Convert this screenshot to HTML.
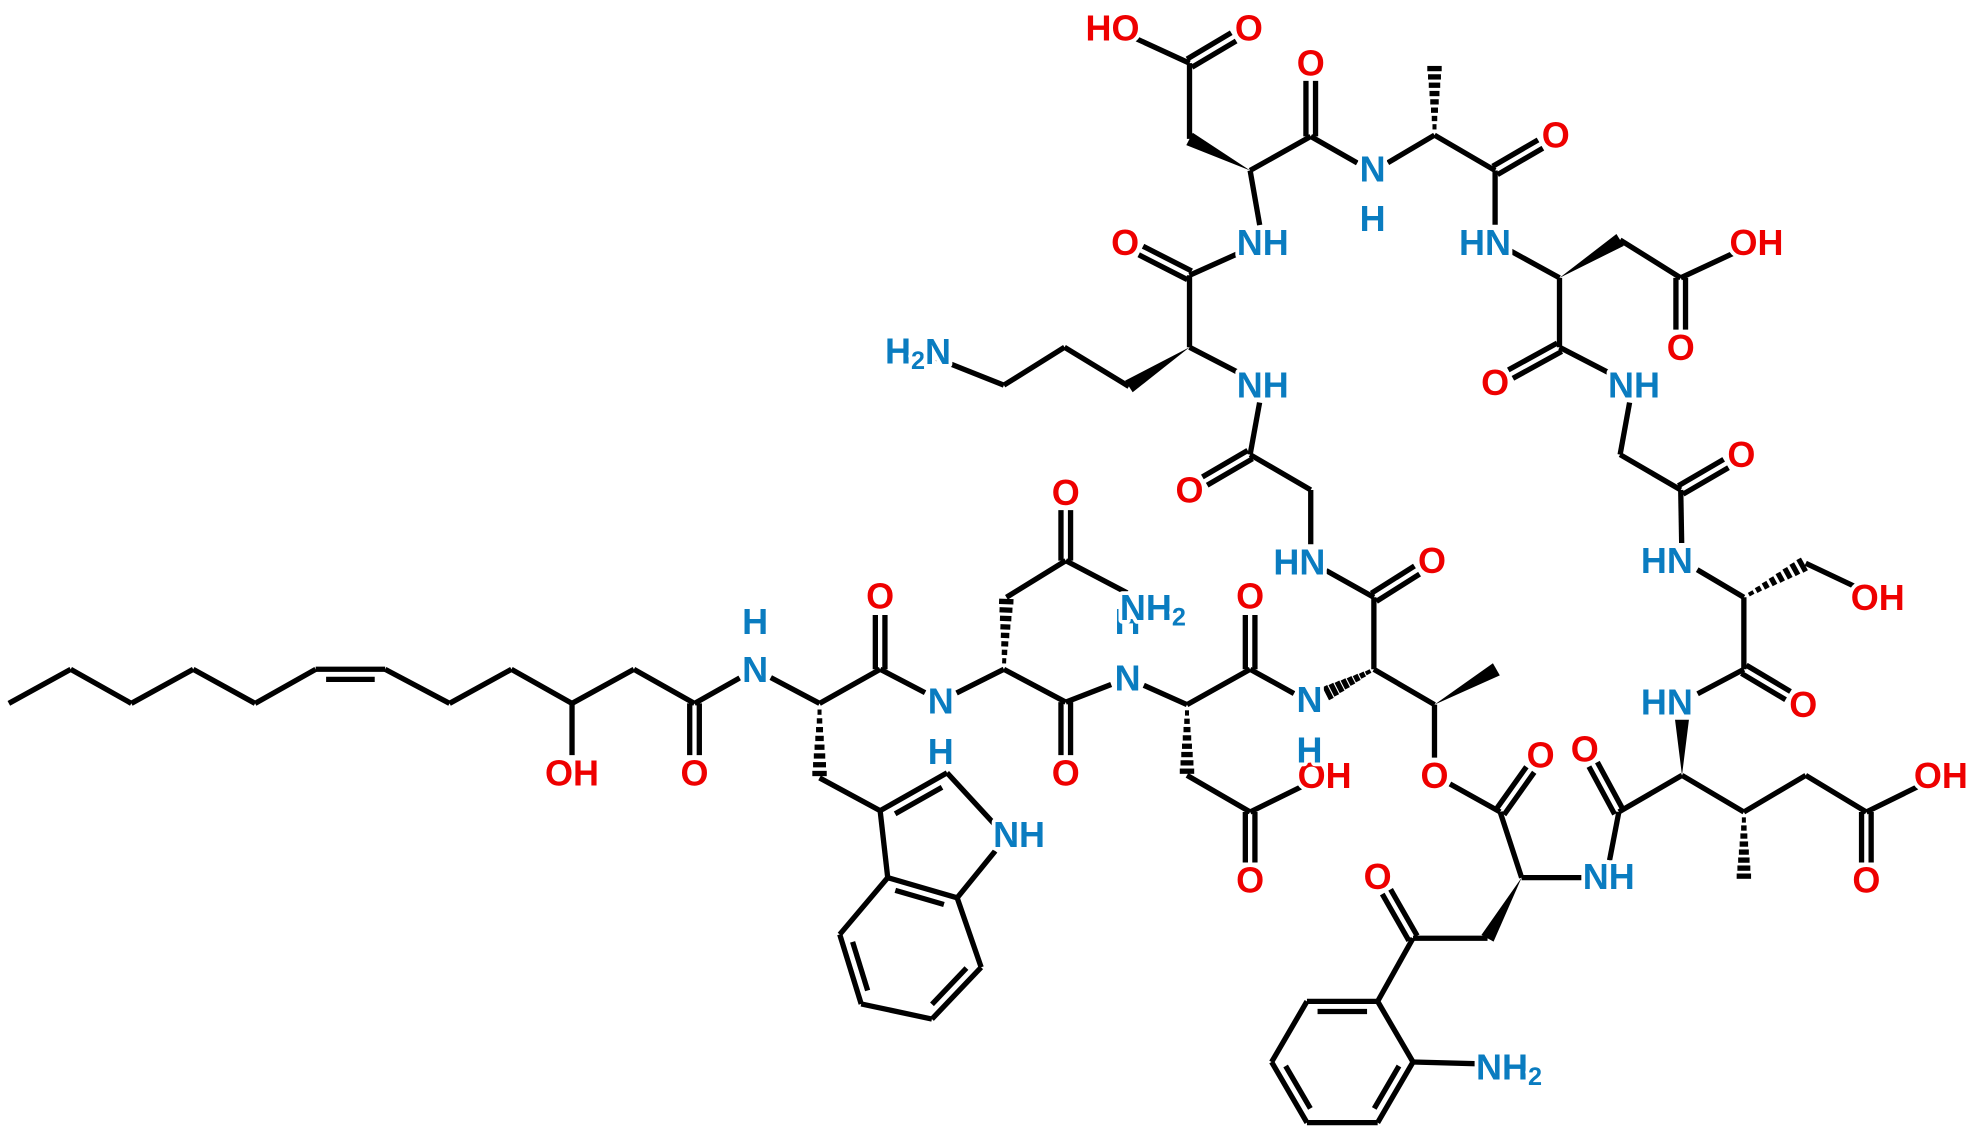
<!DOCTYPE html>
<html><head><meta charset="utf-8"><style>
html,body{margin:0;padding:0;background:#fff;}
svg{display:block;}
text{font-family:"Liberation Sans",sans-serif;font-weight:bold;font-size:28.5px;text-anchor:middle;dominant-baseline:central;stroke:#fff;stroke-width:6px;paint-order:stroke;stroke-linejoin:round;}
.o{fill:#ee0000;} .n{fill:#0a7cc0;}
</style></head><body>
<svg id="s" width="1980" height="1134" viewBox="0 0 1568 898" xmlns="http://www.w3.org/2000/svg">
<g id="b" stroke="#000" stroke-width="4.2" fill="none" stroke-linecap="butt" stroke-linejoin="miter"></g>
<g id="t">
<text class="o" x="453" y="612">OH</text>
<text class="o" x="550" y="612">O</text>
<text class="n" x="598" y="530">N</text><text class="n" x="598" y="492">H</text>
<text class="o" x="697" y="472">O</text>
<text class="n" x="745" y="555">N</text><text class="n" x="745" y="595">H</text>
<text class="n" x="807" y="661">NH</text>
<text class="o" x="844" y="390">O</text>
<text class="o" x="844" y="612">O</text>
<text class="n" x="893" y="537">N</text><text class="n" x="893" y="492">H</text>
<text class="n" x="913" y="481">NH<tspan dy="8" font-size="20">2</tspan></text>
<text class="o" x="990" y="472">O</text>
<text class="o" x="1049" y="614">OH</text>
<text class="o" x="990" y="697">O</text>
<text class="n" x="1037" y="554">N</text><text class="n" x="1037" y="594">H</text>
<text class="n" x="1029" y="445">HN</text>
<text class="o" x="1134" y="444">O</text>
<text class="o" x="1136" y="614">O</text>
<text class="o" x="1220" y="598">O</text>
<text class="o" x="1091" y="694">O</text>
<text class="n" x="1274" y="694">NH</text>
<text class="n" x="1195" y="845">NH<tspan dy="8" font-size="20">2</tspan></text>
<text class="o" x="1255" y="593">O</text>
<text class="n" x="1320" y="556">HN</text>
<text class="o" x="1537" y="614">OH</text>
<text class="o" x="1478" y="697">O</text>
<text class="o" x="1428" y="558">O</text>
<text class="o" x="1487" y="473">OH</text>
<text class="n" x="1320" y="444">HN</text>
<text class="o" x="1379" y="360">O</text>
<text class="n" x="1294" y="305">NH</text>
<text class="o" x="1184" y="303">O</text>
<text class="o" x="1331" y="275">O</text>
<text class="o" x="1391" y="192">OH</text>
<text class="n" x="1176" y="192">HN</text>
<text class="o" x="1232" y="107">O</text>
<text class="n" x="1087" y="134">N</text><text class="n" x="1087" y="173">H</text>
<text class="o" x="1038" y="50">O</text>
<text class="o" x="881" y="22">HO</text>
<text class="o" x="989" y="22">O</text>
<text class="n" x="1000" y="192">NH</text>
<text class="o" x="891" y="192">O</text>
<text class="n" x="1000" y="305">NH</text>
<text class="n" x="727" y="278">H<tspan dy="8" font-size="20">2</tspan><tspan dy="-8">N</tspan></text>
<text class="o" x="942" y="388">O</text>
</g>
</svg>
<script>
var P={
c1:[7,557],c2:[56,530],c3:[104,557],c4:[153,530],c5:[202,557],c6:[250,530],c7:[305,530],c8:[356,557],c9:[405,530],c10:[453,557],OH1:[453,612],c11:[502,530],c12:[550,557],O12:[550,612],N1:[598,530],
tA:[649,557],tB:[649,616],t3:[697,642],t2:[750,612],tN:[797,663],t7a:[758,711],t3a:[703,695],b1:[665,740],b2:[682,795],b3:[738,807],b4:[777,766],
tC:[697,530],tO:[697,473],N2:[745,555],aA:[795,530],aB:[797,473],aC:[844,444],aO:[844,390],aN:[905,476],
aCO:[844,556],aO2:[844,612],N3:[893,537],dA:[940,558],dC:[990,530],dO:[990,473],dB:[940,614],dG:[990,643],dOH:[1049,614],dO2:[990,697],
N4:[1037,556],thA:[1088,530],thC:[1088,473],thO:[1134,444],HN5:[1038,445],thB:[1136,558],thM:[1185,530],thOe:[1136,614],
eC:[1188,643],eO:[1220,598],kA:[1205,695],kN:[1272,695],kB:[1178,743],kC:[1119,743],kO:[1091,694],
p1:[1091,793],p2:[1119,841],pN:[1193,843],p3:[1091,889],p4:[1035,889],p5:[1007,841],p6:[1035,793],
gC:[1282,643],gO:[1255,593],gA:[1332,614],gN:[1332,556],gB:[1381,643],gM:[1381,697],gG:[1430,614],gD:[1478,643],gOH:[1537,614],gO2:[1478,697],
sC:[1381,530],sO:[1428,558],sA:[1381,473],sB:[1430,446],sOH:[1487,473],sN:[1332,444],
g2C:[1331,388],g2O:[1379,360],g2B:[1283,360],g2N:[1293,305],
d2C:[1235,275],d2O:[1184,303],d2A:[1235,220],d2B:[1283,190],d2G:[1331,220],d2OH:[1391,192],d2O2:[1331,275],d2N:[1184,192],
alC:[1184,135],alO:[1232,107],alA:[1136,107],alM:[1136,51],alN:[1087,136],
d1C:[1038,108],d1O:[1038,50],d1A:[990,135],d1B:[942,110],d1G:[942,50],d1OH:[881,22],d1O2:[989,22],d1N:[1000,192],
oC:[942,218],oO:[891,192],oA:[942,275],oN:[1000,305],o1:[894,306],o2:[843,275],o3:[795,305],oNH2:[727,278],
g1B:[990,360],g1O:[942,388],g1C:[1038,388],g1N:[1038,445]
};
var LAB="OH1 O12 N1 tN tO N2 aO aN aO2 N3 dO dOH dO2 N4 thO HN5 thOe eO kN pN kO gO gN gOH gO2 sO sOH sN g2O g2N d2O d2OH d2O2 d2N alO alN d1O d1OH d1O2 d1N oO oN oNH2 g1O g1N".split(" ");
var B=[
"s c1 c2","s c2 c3","s c3 c4","s c4 c5","s c5 c6","d c6 c7 in","s c7 c8","s c8 c9","s c9 c10","s c10 OH1","s c10 c11","s c11 c12","d c12 O12","s c12 N1","s N1 tA",
"h tA tB","s tB t3","d t3 t2 in","s t2 tN","s tN t7a","d t7a t3a in","s t3a t3","s t3a b1","d b1 b2 in","s b2 b3","d b3 b4 in","s b4 t7a",
"s tA tC","d tC tO","s tC N2","s N2 aA","h aA aB","s aB aC","d aC aO","s aC aN","s aA aCO","d aCO aO2","s aCO N3","s N3 dA","s dA dC","d dC dO","h dA dB","s dB dG","s dG dOH","d dG dO2",
"s dC N4","h thA N4","s thA thC","d thC thO","s thC HN5","s thA thB","w thB thM","s thB thOe","s thOe eC","d eC eO","s eC kA","s kA kN","w kA kB","s kB kC","d kC kO","s kC p1",
"s p1 p2","d p2 p3 in2","s p3 p4","d p4 p5 in2","s p5 p6","d p6 p1 in2","s p2 pN",
"s kN gC","d gC gO","s gC gA","w gA gN","s gA gB","h gB gM","s gB gG","s gG gD","s gD gOH","d gD gO2",
"s gN sC","d sC sO","s sC sA","h sA sB","s sB sOH","s sA sN","s sN g2C","d g2C g2O","s g2C g2B","s g2B g2N","s g2N d2C","d d2C d2O","s d2C d2A","w d2A d2B","s d2B d2G","s d2G d2OH","d d2G d2O2","s d2A d2N",
"s d2N alC","d alC alO","s alC alA","h alA alM","s alA alN","s alN d1C","d d1C d1O","s d1C d1A","w d1A d1B","s d1B d1G","s d1G d1OH","d d1G d1O2","s d1A d1N",
"s d1N oC","d oC oO","s oC oA","s oA oN","w oA o1","s o1 o2","s o2 o3","s o3 oNH2","s oN g1B","d g1B g1O","s g1B g1C","s g1C g1N"
];
var NS="http://www.w3.org/2000/svg",g=document.getElementById("b");
function ln(a,b){var l=document.createElementNS(NS,"line");l.setAttribute("x1",a[0]);l.setAttribute("y1",a[1]);l.setAttribute("x2",b[0]);l.setAttribute("y2",b[1]);g.appendChild(l);}
function poly(pts){var p=document.createElementNS(NS,"polygon");p.setAttribute("points",pts.map(function(q){return q[0]+","+q[1]}).join(" "));p.setAttribute("fill","#000");p.setAttribute("stroke","none");g.appendChild(p);}
B.forEach(function(s){var k=s.split(" "),a=P[k[1]].slice(),b=P[k[2]].slice();
var dx=b[0]-a[0],dy=b[1]-a[1],L=Math.hypot(dx,dy),ux=dx/L,uy=dy/L,nx=-uy,ny=ux,T=14;
var ringD=(k[0]=="d"&&k[3]);
var cx,cy;
if(ringD){if(k[3]=="in2"){cx=1063;cy=841;}else if(k[1]=="c6"){cx=277;cy=600;}else if(k[1]=="t3"){cx=740;cy=660;}else{cx=722;cy=760;}}
if(LAB.indexOf(k[1])>=0){a[0]+=ux*T;a[1]+=uy*T;}
if(LAB.indexOf(k[2])>=0){b[0]-=ux*T;b[1]-=uy*T;}
dx=b[0]-a[0];dy=b[1]-a[1];
if(k[0]=="s")ln(a,b);
else if(k[0]=="d"){
 if(ringD){
  ln(a,b);
  var mx=(a[0]+b[0])/2,my=(a[1]+b[1])/2,sg=((cx-mx)*nx+(cy-my)*ny)>0?1:-1,o=8*sg,sh=0.15;
  ln([a[0]+nx*o+dx*sh,a[1]+ny*o+dy*sh],[b[0]+nx*o-dx*sh,b[1]+ny*o-dy*sh]);
 }else{ln([a[0]+nx*3.8,a[1]+ny*3.8],[b[0]+nx*3.8,b[1]+ny*3.8]);ln([a[0]-nx*3.8,a[1]-ny*3.8],[b[0]-nx*3.8,b[1]-ny*3.8]);}
}
else if(k[0]=="w"){poly([a,[b[0]+nx*5.5,b[1]+ny*5.5],[b[0]-nx*5.5,b[1]-ny*5.5]]);}
else if(k[0]=="h"){for(var i=1;i<=8;i++){var t=i/8.5,w=1+5*t;ln([a[0]+dx*t+nx*w,a[1]+dy*t+ny*w],[a[0]+dx*t-nx*w,a[1]+dy*t-ny*w]);}}
});
</script>
</body></html>
